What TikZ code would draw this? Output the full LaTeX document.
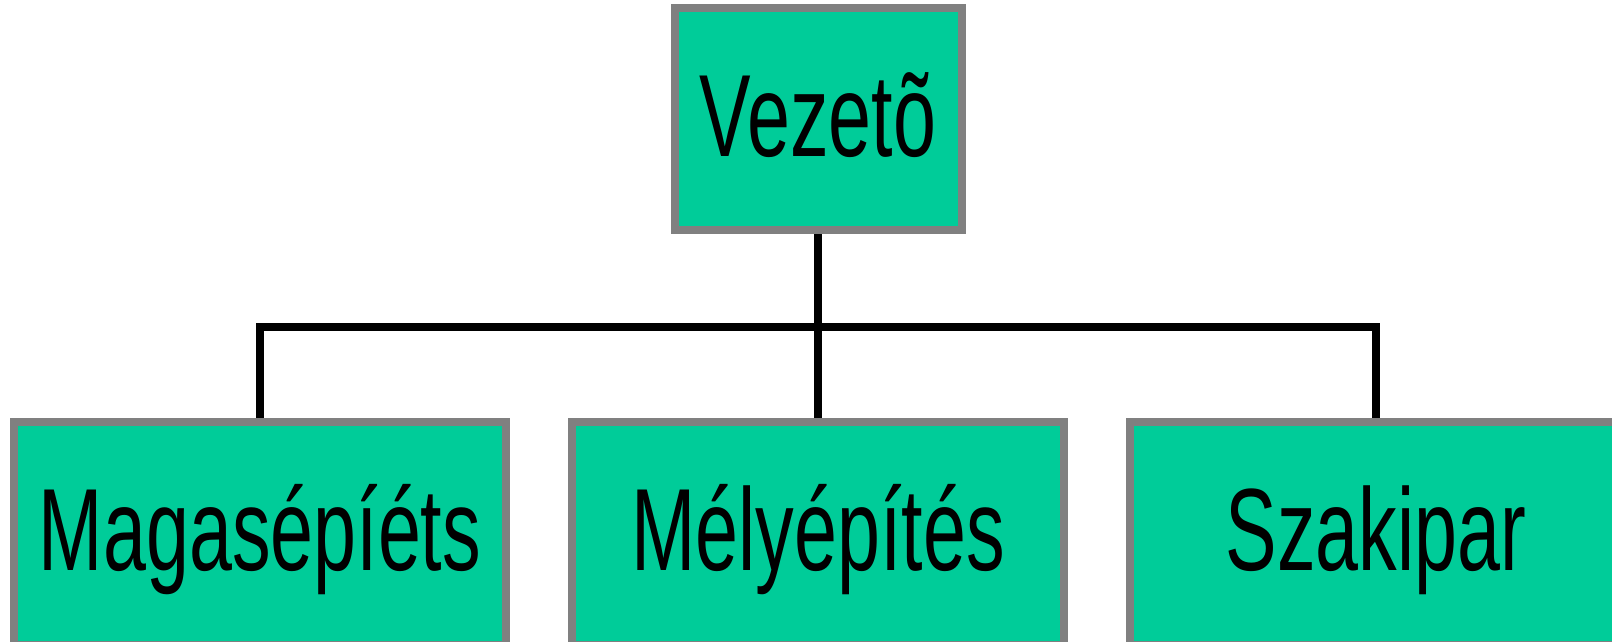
\documentclass[tikz,border=0pt]{standalone}
\usepackage{fontspec}
\setmainfont{Liberation Sans}[FakeStretch=0.66]
\usetikzlibrary{backgrounds}
\definecolor{boxgreen}{HTML}{00CC99}
\definecolor{boxgray}{HTML}{808080}
\tikzset{
  orgbox/.style={draw=boxgray, line width=4pt, fill=boxgreen, rectangle,
    inner sep=0pt, text height=40pt, text depth=3pt,
    font=\fontsize{58.5}{70}\selectfont, text=black},
  link/.style={draw=black, line width=4pt, line join=miter, line cap=rect}
}
\begin{document}
\begin{tikzpicture}[x=0.5pt,y=-0.5pt]
\useasboundingbox (0,0) rectangle (1612,642);
\node[orgbox, minimum width=143.5pt, minimum height=111pt] (top) at (818,119) {Vezetõ};
\node[orgbox, minimum width=246pt, minimum height=111.5pt] (b1) at (260,533.5) {Magasépíéts};
\node[orgbox, minimum width=246pt, minimum height=111.5pt] (b2) at (818,533.5) {Mélyépítés};
\node[orgbox, minimum width=246pt, minimum height=111.5pt] (b3) at (1376,533.5) {Szakipar};
\coordinate (bus) at (818,327);
\begin{pgfonlayer}{background}
\draw[link] (top.south) -- (bus);
\draw[link] (b1.north) |- (bus) -| (b3.north);
\draw[link] (bus) -- (b2.north);
\end{pgfonlayer}
\end{tikzpicture}
\end{document}
